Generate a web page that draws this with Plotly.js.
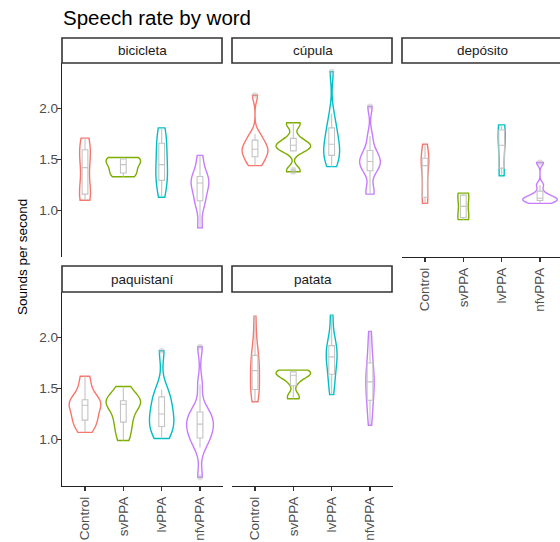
<!DOCTYPE html>
<html>
<head>
<meta charset="utf-8">
<script src="https://cdn.plot.ly/plotly-3.0.1.min.js"></script>
<style>
  html, body { margin: 0; padding: 0; overflow: hidden; background: #ffffff; }
  #chart { width: 570px; height: 542px; }
</style>
</head>
<body>
<div id="chart"></div>
<script>
// Groups and words (facets)
const groups = ['Control', 'svPPA', 'lvPPA', 'nfvPPA'];
const words = ['bicicleta', 'cúpula', 'depósito', 'paquistaní', 'patata'];
const yTickVals = [1.0, 1.5, 2.0];
const yTickText = ['1.0', '1.5', '2.0'];

// Speech rate samples (sounds per second), one array per word and group
const bicicletaControl = [1.10, 1.13, 1.17, 1.22, 1.42, 1.50, 1.58, 1.64, 1.71];
const bicicletaSvPPA   = [1.33, 1.38, 1.45, 1.50, 1.52];
const bicicletaLvPPA   = [1.13, 1.25, 1.31, 1.38, 1.45, 1.55, 1.64, 1.72, 1.81];
const bicicletaNfvPPA  = [0.83, 1.05, 1.11, 1.20, 1.27, 1.29, 1.31, 1.40, 1.54];

const cupulaControl = [1.44, 1.47, 1.52, 1.55, 1.58, 1.60, 1.62, 1.66, 1.70, 1.75, 2.13];
const cupulaSvPPA   = [1.38, 1.40, 1.58, 1.60, 1.62, 1.64, 1.65, 1.67, 1.72, 1.84, 1.86];
const cupulaLvPPA   = [1.43, 1.48, 1.53, 1.57, 1.60, 1.65, 1.70, 1.78, 1.82, 1.95, 2.36];
const cupulaNfvPPA  = [1.16, 1.20, 1.38, 1.42, 1.46, 1.48, 1.50, 1.55, 1.60, 1.73, 2.02];

const depositoControl = [1.07, 1.10, 1.14, 1.30, 1.44, 1.47, 1.50, 1.55, 1.65];
const depositoSvPPA   = [0.91, 0.95, 1.13, 1.17];
const depositoLvPPA   = [1.34, 1.64, 1.84];
const depositoNfvPPA  = [1.07, 1.09, 1.10, 1.11, 1.12, 1.13, 1.17, 1.25, 1.47];

const paquistaniControl = [1.07, 1.15, 1.19, 1.24, 1.31, 1.36, 1.37, 1.39, 1.50, 1.62];
const paquistaniSvPPA   = [0.99, 1.08, 1.17, 1.22, 1.33, 1.36, 1.36, 1.38, 1.43, 1.52];
const paquistaniLvPPA   = [1.01, 1.06, 1.12, 1.15, 1.20, 1.25, 1.30, 1.38, 1.43, 1.49, 1.87];
const paquistaniNfvPPA  = [0.63, 0.92, 1.00, 1.02, 1.08, 1.12, 1.15, 1.18, 1.22, 1.26, 1.30, 1.54, 1.91];

const patataControl = [1.37, 1.42, 1.47, 1.51, 1.56, 1.65, 1.70, 1.74, 1.80, 1.85, 1.98, 2.21];
const patataSvPPA   = [1.40, 1.43, 1.56, 1.62, 1.63, 1.65, 1.66, 1.67, 1.68];
const patataLvPPA   = [1.44, 1.55, 1.62, 1.70, 1.76, 1.81, 1.85, 1.89, 1.93, 2.02, 2.22];
const patataNfvPPA  = [1.14, 1.25, 1.35, 1.42, 1.50, 1.55, 1.58, 1.65, 1.70, 1.80, 1.92, 2.06];

const rates = {
  'bicicleta':  [bicicletaControl, bicicletaSvPPA, bicicletaLvPPA, bicicletaNfvPPA],
  'cúpula':     [cupulaControl, cupulaSvPPA, cupulaLvPPA, cupulaNfvPPA],
  'depósito':   [depositoControl, depositoSvPPA, depositoLvPPA, depositoNfvPPA],
  'paquistaní': [paquistaniControl, paquistaniSvPPA, paquistaniLvPPA, paquistaniNfvPPA],
  'patata':     [patataControl, patataSvPPA, patataLvPPA, patataNfvPPA]
};

const groupColors = ['#F8766D', '#7CAE00', '#00BFC4', '#C77CFF'];
const FONT = '"Liberation Sans", Arial, Helvetica, sans-serif';

// ---- nrd0 bandwidth for the Gaussian kernel ----
function quantile7(v, p) {
  const s = v.slice().sort((a, b) => a - b);
  const h = (s.length - 1) * p, lo = Math.floor(h), hi = Math.ceil(h);
  return s[lo] + (h - lo) * (s[hi] - s[lo]);
}
function sd(v) {
  const m = v.reduce((a, b) => a + b, 0) / v.length;
  return Math.sqrt(v.reduce((a, b) => a + (b - m) * (b - m), 0) / (v.length - 1));
}
function nrd0(v) {
  const s = sd(v);
  const iqr = quantile7(v, 0.75) - quantile7(v, 0.25);
  let lo = Math.min(s, iqr / 1.34);
  if (!(lo > 0)) lo = s || 1;
  return 0.9 * lo * Math.pow(v.length, -0.2);
}

// ---- facet geometry (pixels) ----
const W = 570, H = 542;
const colPx = [[62, 223], [232, 393], [402, 563]];
const rowPx = [[63, 257], [292, 486]];
const stripPx = [[38, 63], [266, 292]];
const facetPos = [[0, 0], [0, 1], [0, 2], [1, 0], [1, 1]];   // [row, col] per word
const hasXAxis = [false, false, true, true, true];

// shared y range: data range plus 5% on each side
const allVals = [].concat(...words.map(w => [].concat(...rates[w])));
const yMin = Math.min(...allVals), yMax = Math.max(...allVals);
const yPad = (yMax - yMin) * 0.05;
const yRange = [yMin - yPad, yMax + yPad];

const traces = [];
const boxTraces = [];
const layout = {
  width: W, height: H,
  margin: {l: 0, r: 0, t: 0, b: 0},
  paper_bgcolor: '#ffffff', plot_bgcolor: '#ffffff',
  showlegend: false,
  violinmode: 'overlay', violingap: 0.1, violingroupgap: 0,
  boxmode: 'overlay',
  font: {family: FONT, color: '#4D4D4D'},
  shapes: [], annotations: []
};

words.forEach((w, i) => {
  const [r, c] = facetPos[i];
  const xa = i ? 'x' + (i + 1) : 'x';
  const ya = i ? 'y' + (i + 1) : 'y';

  rates[w].forEach((v, g) => {
    // violins of one facet share a scale group: width follows density (equal area)
    traces.push({
      type: 'violin', x: v.map(() => groups[g]), y: v,
      xaxis: xa, yaxis: ya,
      bandwidth: nrd0(v), spanmode: 'hard',
      scalemode: 'width', scalegroup: w,
      points: false, box: {visible: false}, meanline: {visible: false},
      fillcolor: 'rgba(0,0,0,0)',
      line: {color: groupColors[g], width: 1.4},
      hoverinfo: 'skip', showlegend: false
    });
    // narrow grey boxplot drawn on top
    boxTraces.push({
      type: 'box', x: v.map(() => groups[g]), y: v,
      xaxis: xa, yaxis: ya,
      width: 0.15, whiskerwidth: 0,
      fillcolor: 'rgba(255,255,255,0)',
      line: {color: '#C4C4C4', width: 1.1},
      boxpoints: 'outliers', jitter: 0, pointpos: 0,
      marker: {color: 'rgba(185,185,185,0.45)', size: 6, line: {width: 0}},
      hoverinfo: 'skip', showlegend: false
    });
  });

  const xKey = i ? 'xaxis' + (i + 1) : 'xaxis';
  const yKey = i ? 'yaxis' + (i + 1) : 'yaxis';
  layout[xKey] = {
    domain: [colPx[c][0] / W, colPx[c][1] / W], anchor: ya,
    type: 'category', categoryorder: 'array', categoryarray: groups,
    range: [-0.6, 3.6], fixedrange: true,
    showgrid: false, zeroline: false,
    showline: hasXAxis[i], linecolor: '#222', linewidth: 1.3,
    ticks: hasXAxis[i] ? 'outside' : '', ticklen: 4, tickcolor: '#333', tickwidth: 1.2,
    showticklabels: hasXAxis[i], tickangle: -90,
    tickfont: {family: FONT, size: 13.5, color: '#4D4D4D'}
  };
  const leftCol = c === 0;
  layout[yKey] = {
    domain: [1 - rowPx[r][1] / H, 1 - rowPx[r][0] / H], anchor: xa,
    range: yRange, fixedrange: true,
    showgrid: false, zeroline: false,
    showline: leftCol, linecolor: '#222', linewidth: 1.3,
    ticks: leftCol ? 'outside' : '', ticklen: 4, tickcolor: '#333', tickwidth: 1.2,
    showticklabels: leftCol, ticklabelstandoff: -4,
    tickvals: yTickVals, ticktext: yTickText,
    tickfont: {family: FONT, size: 13.5, color: '#4D4D4D'}
  };

  // strip box with the word
  layout.shapes.push({
    type: 'rect', xref: 'paper', yref: 'paper',
    x0: colPx[c][0] / W, x1: (colPx[c][1] - 1) / W,
    y0: 1 - stripPx[r][1] / H, y1: 1 - stripPx[r][0] / H,
    line: {color: '#333333', width: 1.6}, fillcolor: '#ffffff'
  });
  layout.annotations.push({
    text: w, showarrow: false, xref: 'paper', yref: 'paper',
    x: (colPx[c][0] + colPx[c][1]) / 2 / W, y: 1 - (stripPx[r][0] + stripPx[r][1]) / 2 / H,
    xanchor: 'center', yanchor: 'middle',
    font: {family: FONT, size: 13.5, color: '#1A1A1A'}
  });
});

// chart title and shared y-axis title
layout.annotations.push({
  text: 'Speech rate by word', showarrow: false, xref: 'paper', yref: 'paper',
  x: 61 / W, y: 1 - 18 / H, xanchor: 'left', yanchor: 'middle',
  font: {family: FONT, size: 20.5, color: '#000000'}
});
layout.annotations.push({
  text: 'Sounds per second', showarrow: false, xref: 'paper', yref: 'paper',
  x: 22 / W, y: 1 - 257 / H, xanchor: 'center', yanchor: 'middle', textangle: -90,
  font: {family: FONT, size: 13.5, color: '#000000'}
});

Plotly.newPlot('chart', traces.concat(boxTraces), layout, {staticPlot: true, displayModeBar: false});
</script>
</body>
</html>
